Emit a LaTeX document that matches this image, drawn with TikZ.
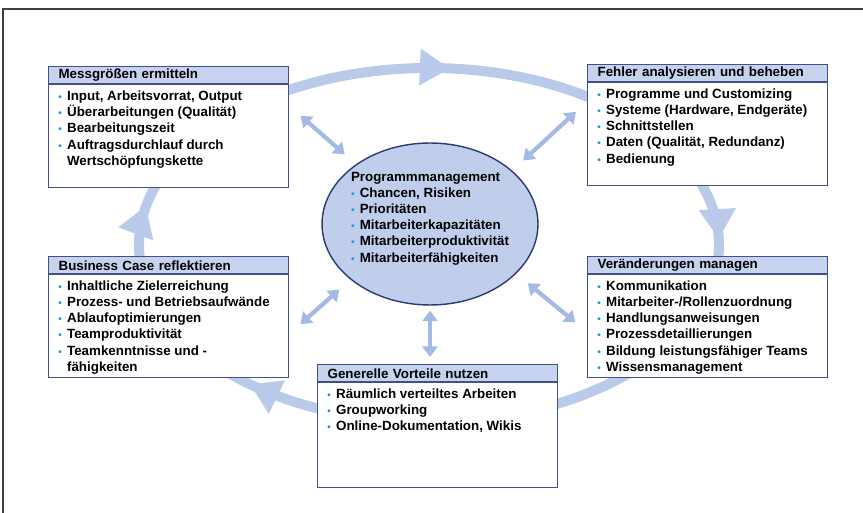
\documentclass[tikz,border=0pt]{standalone}
\usepackage{fontspec}
\setmainfont{Liberation Sans}
\usepackage{tikz}
\usepackage{xcolor}
\usetikzlibrary{arrows.meta,positioning,shapes.geometric,decorations.markings}

\definecolor{boxline}{RGB}{66,80,138}
\definecolor{hdrfill}{RGB}{198,210,238}
\definecolor{ringc}{RGB}{186,202,234}
\definecolor{arrowc}{RGB}{164,186,228}
\definecolor{progfill}{RGB}{192,206,236}
\definecolor{progline}{RGB}{44,56,120}
\definecolor{bulc}{RGB}{38,150,214}

\newcommand{\bul}{{\color{bulc}\scalebox{0.75}{\textbullet}}}

\begin{document}
\begin{tikzpicture}[
  x=0.02cm, y=-0.02cm,
  txt/.style={font=\fontsize{7.6}{9.2}\selectfont\bfseries},
  box/.style={draw=boxline, line width=0.7pt, fill=white, anchor=north west, inner sep=0pt, minimum width=4.8cm, minimum height=2.42cm},
  hdr/.style={draw=boxline, line width=0.7pt, fill=hdrfill, anchor=north, minimum width=4.8cm, minimum height=0.35cm, text width=4.4cm, inner xsep=0.2cm, inner ysep=0pt, align=left, txt},
  items/.style={anchor=north west, inner sep=0pt, align=left, txt},
  ringtip/.tip={Triangle[length=0.6cm,width=0.7cm]},
  ring/.style={draw=ringc, line width=0.2cm, postaction={decorate}},
  dbl/.style={{Triangle[length=6pt,width=8.5pt]}-{Triangle[length=6pt,width=8.5pt]}, draw=arrowc, line width=2.4pt, shorten <=0.3cm, shorten >=0.3cm}
]
  \useasboundingbox (0,0) rectangle (863,513);
  \draw[black!75, line width=0.6pt] (3,513) -- (3,9) -- (863,9);

  % cycle ring behind the boxes
  \draw[ring, decoration={markings,
      mark=at position 0.374 with {\arrow{ringtip}},
      mark=at position 0.527 with {\arrow{ringtip}},
      mark=at position 0.764 with {\arrow{ringtip}},
      mark=at position 0.996 with {\arrow{ringtip}}}]
    (429,245) ellipse [x radius=290, y radius=177];

  % boxes
  \node[box] (mess) at (48,66) {};
  \node[hdr] (mess-h) at (mess.north) {Messgrößen ermitteln};
  \node[items] (mess-t) at ([xshift=0.2cm,yshift=-2.3pt]mess-h.south west) {\begin{tabular}{@{}l@{\hspace{3pt}}l@{}}
    \bul & Input, Arbeitsvorrat, Output\\
    \bul & Überarbeitungen (Qualität)\\
    \bul & Bearbeitungszeit\\
    \bul & Auftragsdurchlauf durch\\
         & Wertschöpfungskette
  \end{tabular}};

  \node[box] (fehler) at (587,64) {};
  \node[hdr] (fehler-h) at (fehler.north) {Fehler analysieren und beheben};
  \node[items] (fehler-t) at ([xshift=0.2cm,yshift=-2.3pt]fehler-h.south west) {\begin{tabular}{@{}l@{\hspace{3pt}}l@{}}
    \bul & Programme und Customizing\\
    \bul & Systeme (Hardware, Endgeräte)\\
    \bul & Schnittstellen\\
    \bul & Daten (Qualität, Redundanz)\\
    \bul & Bedienung
  \end{tabular}};

  \node[box] (business) at (48,256) {};
  \node[hdr] (business-h) at (business.north) {Business Case reflektieren};
  \node[items] (business-t) at ([xshift=0.2cm,yshift=-2.3pt]business-h.south west) {\begin{tabular}{@{}l@{\hspace{3pt}}l@{}}
    \bul & Inhaltliche Zielerreichung\\
    \bul & Prozess- und Betriebsaufwände\\
    \bul & Ablaufoptimierungen\\
    \bul & Teamproduktivität\\
    \bul & Teamkenntnisse und -\\
         & fähigkeiten
  \end{tabular}};

  \node[box] (change) at (587,256) {};
  \node[hdr] (change-h) at (change.north) {Veränderungen managen};
  \node[items] (change-t) at ([xshift=0.2cm,yshift=-2.3pt]change-h.south west) {\begin{tabular}{@{}l@{\hspace{3pt}}l@{}}
    \bul & Kommunikation\\
    \bul & Mitarbeiter-/Rollenzuordnung\\
    \bul & Handlungsanweisungen\\
    \bul & Prozessdetaillierungen\\
    \bul & Bildung leistungsfähiger Teams\\
    \bul & Wissensmanagement
  \end{tabular}};

  \node[box, minimum height=2.46cm] (vorteile) at (317,364) {};
  \node[hdr] (vorteile-h) at (vorteile.north) {Generelle Vorteile nutzen};
  \node[items] (vorteile-t) at ([xshift=0.2cm,yshift=-2.3pt]vorteile-h.south west) {\begin{tabular}{@{}l@{\hspace{3pt}}l@{}}
    \bul & Räumlich verteiltes Arbeiten\\
    \bul & Groupworking\\
    \bul & Online-Dokumentation, Wikis
  \end{tabular}};

  % centre
  \node[draw=progline, line width=0.8pt, fill=progfill, ellipse, minimum width=4.32cm, minimum height=3.24cm, inner sep=0pt] (prog) at (430,224) {};
  \node[items, anchor=center] (prog-t) at ([yshift=0.11cm]prog.center) {\begin{tabular}{@{}l@{\hspace{3pt}}l@{}}
    \multicolumn{2}{@{}l@{}}{Programmmanagement}\\
    \bul & Chancen, Risiken\\
    \bul & Prioritäten\\
    \bul & Mitarbeiterkapazitäten\\
    \bul & Mitarbeiterproduktivität\\
    \bul & Mitarbeiterfähigkeiten
  \end{tabular}};

  \draw[dbl] (mess.10) -- (prog.141);
  \draw[dbl] (prog.33) -- (fehler.169);
  \draw[dbl] (business.-8) -- (prog.215);
  \draw[dbl] (prog.-30) -- (change.187);
  \draw[dbl, shorten <=0.1cm, shorten >=0.14cm] (prog.south) -- (prog.south |- vorteile.north);
\end{tikzpicture}
\end{document}
